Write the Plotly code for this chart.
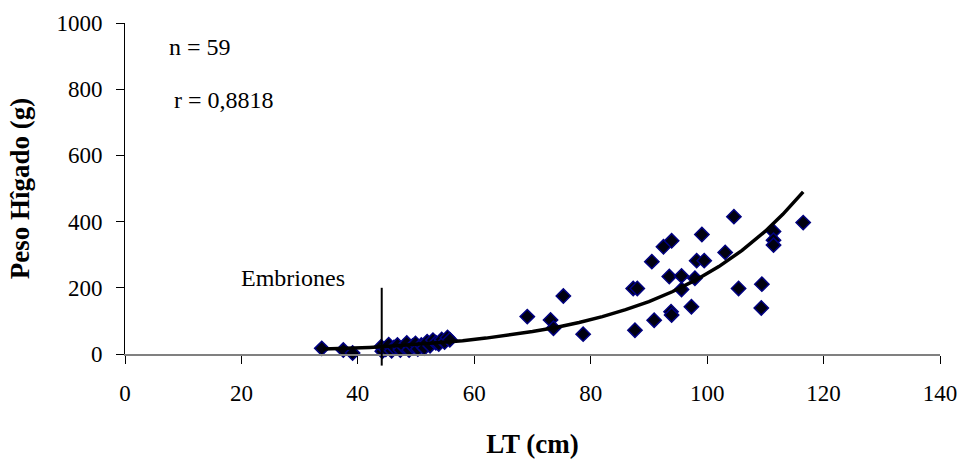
import plotly.graph_objects as go

# ---- data ----
lt_cm = [33.8, 37.5, 39.1,
         44.0, 44.2, 44.8, 45.3, 45.8, 46.2, 46.8, 47.3, 47.9, 48.4, 48.8, 49.4,
         49.9, 50.3, 50.9, 51.4, 51.9, 52.4, 52.9, 53.4, 53.9, 54.4, 54.9, 55.4, 55.8,
         69.1, 73.1, 73.6, 75.3, 78.7, 87.3, 88.0, 87.6, 90.5, 90.9, 92.5, 93.9,
         93.5, 93.8, 93.9, 95.6, 95.6, 97.3, 97.9, 98.2, 99.5, 99.1, 103.1, 104.6,
         105.4, 109.4, 109.3, 111.4, 111.4, 111.4, 116.5]
peso_higado = [17, 12, 3,
               22, 8, 14, 28, 10, 20, 27, 12, 22, 33, 12, 24,
               32, 15, 27, 18, 37, 25, 42, 34, 30, 44, 36, 50, 43,
               113, 103, 78, 175, 60, 198, 198, 72, 279, 102, 324, 342,
               234, 128, 118, 236, 195, 143, 229, 282, 282, 361, 307, 415,
               198, 211, 139, 370, 344, 329, 397]

# trend curve
fit_x = [34, 38, 42, 46, 50, 54, 58, 62, 66, 70, 74, 78, 82, 86, 90, 94, 98,
         102, 106, 110, 113, 116.5]
fit_y = [15, 17, 20, 24, 29, 34, 40, 48, 57, 68, 80, 95, 113, 134, 158, 188,
         223, 264, 313, 371, 422, 490]

x_ticks = [0, 20, 40, 60, 80, 100, 120, 140]
y_ticks = [0, 200, 400, 600, 800, 1000]

x_range = [0, 140]
y_range = [0, 1000]

embriones_x = 44.1
embriones_line_y = [-35, 200]

n_text = "n = 59"
r_text = "r = 0,8818"
emb_text = "Embriones"

FONT = "Liberation Serif"

fig = go.Figure()
fig.add_trace(go.Scatter(
    x=lt_cm, y=peso_higado, mode="markers",
    marker=dict(symbol="diamond", size=11, color="#000010",
                line=dict(color="#000080", width=1.5)),
    cliponaxis=False, showlegend=False))
fig.add_trace(go.Scatter(
    x=fit_x, y=fit_y, mode="lines",
    line=dict(color="black", width=3.5), showlegend=False))

xspan = x_range[1] - x_range[0]
yspan = y_range[1] - y_range[0]
fig.add_shape(type="line", xref="paper", yref="paper",
              x0=(embriones_x - x_range[0]) / xspan, x1=(embriones_x - x_range[0]) / xspan,
              y0=(embriones_line_y[0] - y_range[0]) / yspan,
              y1=(embriones_line_y[1] - y_range[0]) / yspan,
              line=dict(color="black", width=2))

fig.add_annotation(x=7.2, y=927, xref="x", yref="y", text=n_text, showarrow=False,
                   xanchor="left", yanchor="middle", font=dict(family=FONT, size=24, color="black"))
fig.add_annotation(x=8.0, y=767, xref="x", yref="y", text=r_text, showarrow=False,
                   xanchor="left", yanchor="middle", font=dict(family=FONT, size=24, color="black"))
fig.add_annotation(x=19.6, y=230, xref="x", yref="y", text=emb_text, showarrow=False,
                   xanchor="left", yanchor="middle", font=dict(family=FONT, size=24, color="black"))

fig.update_layout(
    width=966, height=459,
    margin=dict(l=125, r=26, t=23, b=105),
    paper_bgcolor="white", plot_bgcolor="white",
    font=dict(family=FONT, size=23, color="black"),
    xaxis=dict(range=x_range, tickvals=x_ticks, ticks="outside", ticklen=8,
               tickcolor="black", tickwidth=1, showline=True, linecolor="#808080",
               linewidth=2, showgrid=False, zeroline=False, ticklabelstandoff=9,
               automargin=False,
               title=dict(text="<b>LT (cm)</b>", font=dict(family=FONT, size=27), standoff=43)),
    yaxis=dict(range=y_range, tickvals=y_ticks, ticks="outside", ticklen=8,
               tickcolor="black", tickwidth=1, showline=True, linecolor="black",
               linewidth=1, showgrid=False, zeroline=False, ticklabelstandoff=9,
               automargin=False,
               title=dict(text="<b>Peso Hîgado (g)</b>", font=dict(family=FONT, size=27), standoff=18)),
)

fig.write_html("out.html")
